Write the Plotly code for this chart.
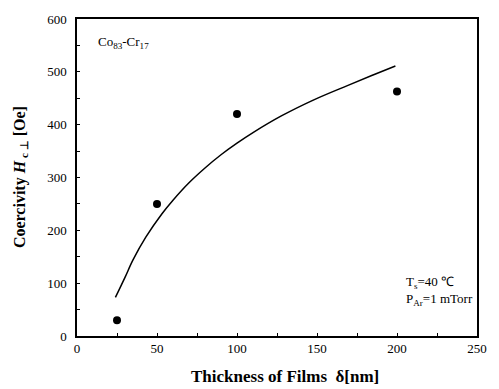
import plotly.graph_objects as go

# measured data points
thickness = [25, 50, 100, 200]
coercivity = [30, 250, 420, 463]

# fitted curve
fit_x = [24, 30, 35, 43, 53, 60, 70, 80, 90, 100, 110, 128, 148, 169, 185, 199]
fit_y = [73, 111, 144, 187, 231, 257, 290, 318, 343, 365, 385, 417, 447, 474, 494, 511]

x_ticks = [0, 50, 100, 150, 200, 250]
y_ticks = [0, 100, 200, 300, 400, 500, 600]

FONT = "Liberation Serif"

fig = go.Figure()
fig.add_trace(go.Scatter(x=fit_x, y=fit_y, mode="lines",
                         line=dict(color="black", width=1.5, shape="spline", smoothing=1.0),
                         showlegend=False, hoverinfo="skip"))
fig.add_trace(go.Scatter(x=thickness, y=coercivity, mode="markers",
                         marker=dict(color="black", size=8), showlegend=False))

axis_common = dict(showgrid=False, zeroline=False, showline=True, linecolor="black", linewidth=1.5,
                   mirror=True, ticks="inside", ticklen=3, tickcolor="black",
                   tickfont=dict(family=FONT, size=13, color="black"))

fig.update_xaxes(range=[0, 250], tickvals=x_ticks, ticktext=[str(v) for v in x_ticks],
                 minor=dict(dtick=25, ticks="inside", ticklen=3, tickcolor="black"), **axis_common)
fig.update_yaxes(range=[0, 600], tickvals=y_ticks, ticktext=[str(v) for v in y_ticks],
                 ticklabelstandoff=6,
                 minor=dict(dtick=50, ticks="inside", ticklen=3, tickcolor="black"), **axis_common)

fig.add_annotation(xref="paper", yref="paper", x=0.52, y=-0.128, xanchor="center", yanchor="middle",
                   showarrow=False, text="<b>Thickness of Films  δ[nm]</b>",
                   font=dict(family=FONT, size=17, color="black"))
fig.add_annotation(xref="paper", yref="paper", x=-0.141, y=0.5, xanchor="center", yanchor="middle",
                   textangle=-90, showarrow=False,
                   text="<b>Coercivity <i>H</i><sub> c ⊥</sub> [Oe]</b>",
                   font=dict(family=FONT, size=16, color="black"))
fig.add_annotation(xref="paper", yref="paper", x=0.047, y=0.925, xanchor="left", yanchor="middle",
                   showarrow=False, text="Co<sub>83</sub>-Cr<sub>17</sub>",
                   font=dict(family=FONT, size=13, color="black"))
fig.add_annotation(xref="paper", yref="paper", x=0.817, y=0.168, xanchor="left", yanchor="middle",
                   showarrow=False, text="T<sub>s</sub>=40 ℃", font=dict(family=FONT, size=13, color="black"))
fig.add_annotation(xref="paper", yref="paper", x=0.817, y=0.114, xanchor="left", yanchor="middle",
                   showarrow=False, text="P<sub>Ar</sub>=1 mTorr", font=dict(family=FONT, size=13, color="black"))

fig.update_layout(width=499, height=389, margin=dict(l=77, r=18, t=15, b=53),
                  paper_bgcolor="white", plot_bgcolor="white",
                  font=dict(family=FONT, color="black"))

fig.write_html("out.html", config={"displayModeBar": False},
               post_script="document.body.style.margin='0';")
